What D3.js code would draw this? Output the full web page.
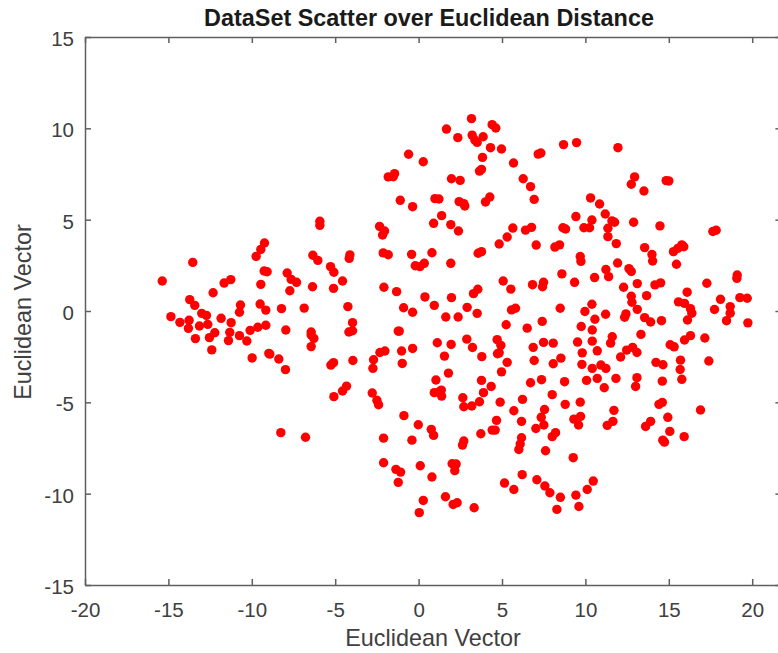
<!DOCTYPE html>
<html>
<head>
    <meta charset="utf-8">
    <script src="https://d3js.org/d3.v7.min.js"></script>
    <style>
        html, body { margin: 0; padding: 0; background: #fff; overflow: hidden; }
        svg { display: block; font-family: 'Liberation Sans', Arial, sans-serif; }
        .tick text { font-size: 20.5px; fill: #404040; }
        .tick line, .domain { stroke: #5f5f5f; stroke-width: 1.5px; }
        .title { font-size: 23.4px; font-weight: bold; fill: #1a1a1a; text-anchor: middle; }
        .axis-label { font-size: 23.4px; fill: #404040; text-anchor: middle; }
    </style>
</head>
<body>
    <script>
        const xTicks = [-20, -15, -10, -5, 0, 5, 10, 15, 20];
        const yTicks = [-15, -10, -5, 0, 5, 10, 15];
        const titleText = 'DataSet Scatter over Euclidean Distance';
        const xLabelText = 'Euclidean Vector';
        const yLabelText = 'Euclidean Vector';

        // left part
        const leftPoints = [
            [-15.37,1.64],[-13.54,2.66],[-14.85,-0.31],[-14.31,-0.62],[-13.76,-0.51],[-13.80,-0.95],[-13.72,0.62],[-13.42,0.31],
            [-13.38,-1.51],[-13.14,-0.82],[-13.0,-0.13],[-12.72,-0.24],[-12.64,-0.73],[-12.54,-1.46],[-12.22,-1.19],[-12.40,-2.13],
            [-12.32,1.0],[-11.84,-0.40],[-11.66,1.53],[-11.26,1.72],[-11.24,-0.64],[-11.32,-1.17],[-11.40,-1.62],[-10.68,0.33],
            [-10.74,-0.07],[-10.74,-1.35],[-10.30,-1.64],[-10.10,-1.06],[-9.64,-0.89],[-9.16,-0.78],[-9.98,-2.57],[-8.98,-2.32],
            [-8.92,-2.36],[-8.38,-2.63],[-7.98,-3.21],[-7.96,-1.04],[-8.22,0.13],[-9.50,0.38],[-9.16,0.05],[-9.46,1.46],
            [-9.26,2.19],[-9.08,2.15],[-9.74,2.99],[-9.46,3.37],[-9.24,3.72],[-7.88,2.08],[-7.64,1.73],[-7.32,1.57],
            [-7.72,1.11],[-6.36,1.33],[-6.86,0.16],[-6.44,-1.15],[-6.44,-1.31],[-6.28,-1.50],[-6.44,-1.95],[-6.34,3.05],
            [-6.04,2.77],[-5.92,4.91],[-5.92,4.69],[-5.28,2.43],[-5.08,2.12],[-5.10,1.24],[-5.26,-2.96],[-5.10,-2.83],
            [-5.08,-4.69],[-8.26,-6.66],[-6.78,-6.91]
        ];

        // upper middle
        const upperPoints = [
            [-4.12,3.07],[-4.16,2.88],[-4.56,1.64],[-4.24,0.24],[1.67,9.96],[3.17,10.53],[4.41,10.20],[4.63,10.02],
            [2.35,9.49],[3.21,9.63],[3.37,9.36],[3.51,9.23],[3.87,9.54],[4.31,8.94],[4.97,8.87],[-0.60,8.58],
            [0.28,8.17],[3.83,8.41],[5.69,8.10],[7.17,8.59],[7.33,8.65],[3.65,7.66],[3.77,7.75],[-1.44,7.52],
            [-1.52,7.35],[-1.82,7.34],[1.97,7.24],[2.49,7.15],[6.27,7.24],[6.71,6.81],[6.93,6.11],[4.27,6.24],
            [4.01,5.97],[-1.10,6.06],[-0.36,5.71],[0.98,6.15],[1.22,6.13],[2.43,5.99],[2.71,5.88],[2.77,5.75],
            [1.38,5.22],[0.90,4.80],[1.93,4.73],[2.39,4.38],[-2.34,4.63],[-2.04,4.38],[-2.16,4.16],[5.65,4.54],
            [5.31,4.05],[4.83,3.67],[6.41,4.43],[6.77,4.58],[7.05,3.61],[8.17,3.50],[-2.12,3.18],[-1.82,3.08],
            [-0.42,3.10],[0.80,3.19],[0.34,2.61],[0.08,2.43],[-0.20,2.48],[1.93,2.61],[3.57,3.16],[3.77,3.25],
            [5.07,1.64],[5.53,1.20],[6.83,1.44],[7.49,1.57],[7.43,1.33],[-2.08,1.30],[-1.32,1.06],[0.38,0.77],
            [0.94,0.31],[1.97,0.73],[3.55,1.19],[3.29,0.95],[-0.90,0.18],[-0.36,-0.07],[2.91,0.20],[3.51,-0.13],
            [1.63,-0.33],[2.37,-0.33],[5.57,0.06],[5.81,0.15]
        ];

        // lower middle
        const lowerPoints = [
            [-3.96,-0.64],[-3.96,-1.08],[-4.18,-1.15],[-1.22,-1.10],[-1.16,-1.10],[5.25,-0.75],[6.51,-0.94],[7.41,-0.57],
            [1.12,-1.74],[1.95,-1.83],[2.89,-1.54],[3.23,-2.0],[4.71,-1.57],[4.93,-1.88],[4.83,-2.29],[4.73,-2.34],
            [3.79,-2.50],[1.55,-2.47],[6.87,-1.99],[7.49,-1.72],[8.07,-1.76],[6.93,-2.71],[8.07,-2.89],[5.31,-2.81],
            [4.97,-3.33],[1.79,-3.40],[-2.32,-2.27],[-2.02,-2.19],[-2.70,-2.67],[-2.74,-3.14],[-1.02,-2.19],[-0.36,-2.05],
            [-0.98,-2.87],[-3.94,-2.71],[-4.32,-4.11],[-4.56,-4.38],[-2.78,-4.49],[-2.50,-4.89],[-2.40,-5.13],[1.04,-3.78],
            [0.94,-4.47],[1.24,-4.42],[1.36,-4.33],[1.38,-4.66],[3.77,-3.80],[4.35,-4.13],[3.89,-4.47],[3.65,-4.97],
            [2.65,-4.75],[2.71,-5.24],[3.19,-5.20],[4.89,-4.99],[6.23,-4.84],[6.71,-3.93],[7.37,-3.76],[8.01,-4.58],
            [5.71,-5.46],[7.55,-5.39],[7.35,-5.82],[7.51,-6.24],[7.03,-6.43],[6.17,-6.04],[4.67,-5.99],[4.41,-6.52],
            [4.59,-6.52],[3.73,-6.72],[8.21,-6.66],[8.01,-6.88],[6.17,-6.94],[6.09,-7.28],[6.01,-7.58],[7.61,-7.65],
            [2.71,-7.12],[2.63,-7.34],[-0.88,-5.73],[-0.02,-6.23],[0.76,-6.48],[0.90,-6.81],[-0.40,-7.07],[-2.10,-6.96],
            [-2.10,-8.31],[-1.36,-8.67],[-1.08,-8.82],[-1.22,-9.38],[0.10,-8.47],[0.80,-9.09],[2.01,-8.36],[2.25,-8.38],
            [2.17,-8.74],[5.15,-9.42],[5.71,-9.77],[6.21,-8.96],[7.09,-9.24],[7.57,-9.58],[7.87,-9.95],[8.50,-10.20],
            [8.29,-10.86],[1.61,-10.17],[2.07,-10.59],[2.31,-10.50],[3.33,-10.77],[0.28,-10.37],[0.04,-11.04]
        ];

        // right part
        const rightPoints = [
            [8.69,9.11],[9.47,9.22],[11.95,8.94],[12.95,7.34],[12.75,6.94],[13.51,6.57],[14.84,7.14],[15.0,7.12],
            [10.31,6.19],[10.85,5.86],[11.19,5.31],[9.43,5.17],[10.39,4.98],[11.59,4.93],[11.75,4.86],[12.89,4.86],
            [14.47,4.66],[8.65,4.56],[8.81,4.49],[9.91,4.56],[10.25,4.56],[11.35,4.53],[11.35,4.07],[11.85,3.69],
            [8.45,3.62],[17.64,4.35],[17.84,4.42],[15.78,3.62],[15.90,3.52],[15.54,3.43],[15.28,3.25],[13.55,3.47],
            [13.99,3.09],[14.03,2.74],[15.46,2.56],[9.69,2.98],[9.73,2.72],[11.93,2.63],[12.61,2.32],[12.75,2.16],
            [11.23,2.27],[11.39,1.88],[8.59,2.03],[10.55,1.83],[9.35,1.57],[13.11,1.50],[12.29,1.30],[14.17,1.43],
            [14.51,1.54],[17.28,1.52],[19.10,1.97],[19.08,1.79],[16.10,1.03],[13.67,0.84],[12.75,0.81],[12.79,0.48],
            [13.11,0.09],[19.26,0.73],[19.70,0.70],[18.10,0.64],[18.68,0.24],[18.68,-0.12],[18.46,-0.53],[19.74,-0.65],
            [17.74,0.08],[15.58,0.50],[15.94,0.42],[16.30,0.13],[16.38,-0.12],[16.12,-0.49],[10.39,0.37],[9.97,-0.03],
            [10.57,-0.45],[11.21,-0.18],[8.49,0.15],[12.43,-0.16],[12.35,-0.34],[13.55,-0.36],[13.91,-0.60],[14.56,-0.53],
            [9.75,-0.85],[10.41,-1.04],[11.61,-1.41],[11.51,-1.76],[13.33,-1.28],[10.41,-1.65],[9.53,-1.70],[9.81,-2.29],
            [10.71,-2.18],[12.47,-2.14],[12.83,-1.99],[13.09,-2.27],[12.11,-2.52],[15.08,-1.85],[15.32,-1.96],[15.94,-1.59],
            [16.30,-1.35],[17.16,-1.48],[8.53,-2.58],[9.79,-2.92],[10.41,-3.14],[10.93,-2.96],[11.23,-3.14],[14.23,-2.81],
            [14.65,-2.94],[15.70,-2.69],[15.68,-3.20],[15.78,-3.74],[17.40,-2.74],[8.75,-3.87],[10.07,-3.80],[10.71,-3.69],
            [11.83,-3.69],[13.09,-3.65],[13.01,-4.13],[11.13,-4.20],[14.61,-3.84],[8.79,-5.11],[9.69,-4.99],[11.71,-5.44],
            [14.41,-5.11],[14.61,-5.0],[16.90,-5.42],[14.94,-5.82],[9.71,-5.77],[9.31,-5.92],[9.59,-6.24],[11.65,-6.04],
            [11.31,-6.26],[13.91,-6.04],[13.61,-6.32],[15.06,-6.59],[15.92,-6.88],[14.64,-7.07],[14.74,-7.18],[9.27,-8.03],
            [10.47,-9.31],[10.11,-9.77],[9.43,-10.08],[9.61,-10.70]
        ];

        const width = 778,
            height = 653;

        // the right edge of the box sits just outside the crop
        const x = d3.scaleLinear().domain([-20, 21.75]).range([85, 781.4]);
        const y = d3.scaleLinear().domain([-15, 15]).range([585, 37]);

        const svg = d3.select('body').append('svg')
            .attr('width', width)
            .attr('height', height);

        svg.append('g')
            .attr('transform', `translate(0,${y(-15)})`)
            .call(d3.axisBottom(x).tickValues(xTicks).tickFormat(d => String(d)).tickSizeInner(-6).tickSizeOuter(0).tickPadding(17.5));
        svg.append('g')
            .attr('transform', `translate(0,${y(15)})`)
            .call(d3.axisTop(x).tickValues(xTicks).tickSizeInner(-6).tickSizeOuter(0).tickFormat(''));
        svg.append('g')
            .attr('transform', `translate(${x(-20)},0)`)
            .call(d3.axisLeft(y).tickValues(yTicks).tickFormat(d => String(d)).tickSizeInner(-6).tickSizeOuter(0).tickPadding(11))
            .selectAll('text').attr('dy', '0.42em');
        svg.append('g')
            .attr('transform', `translate(${x(21.75)},0)`)
            .call(d3.axisRight(y).tickValues(yTicks).tickSizeInner(-6).tickSizeOuter(0).tickFormat(''));

        svg.append('g').selectAll('circle')
            .data([...leftPoints, ...upperPoints, ...lowerPoints, ...rightPoints])
            .join('circle')
            .attr('cx', d => x(d[0]))
            .attr('cy', d => y(d[1]))
            .attr('r', 4.7)
            .attr('fill', '#ff0000');

        svg.append('text').attr('class', 'title')
            .attr('x', 429).attr('y', 26).text(titleText);
        svg.append('text').attr('class', 'axis-label')
            .attr('x', 433).attr('y', 646).text(xLabelText);
        svg.append('text').attr('class', 'axis-label')
            .attr('transform', 'translate(31,312) rotate(-90)').text(yLabelText);
    </script>
</body>
</html>
